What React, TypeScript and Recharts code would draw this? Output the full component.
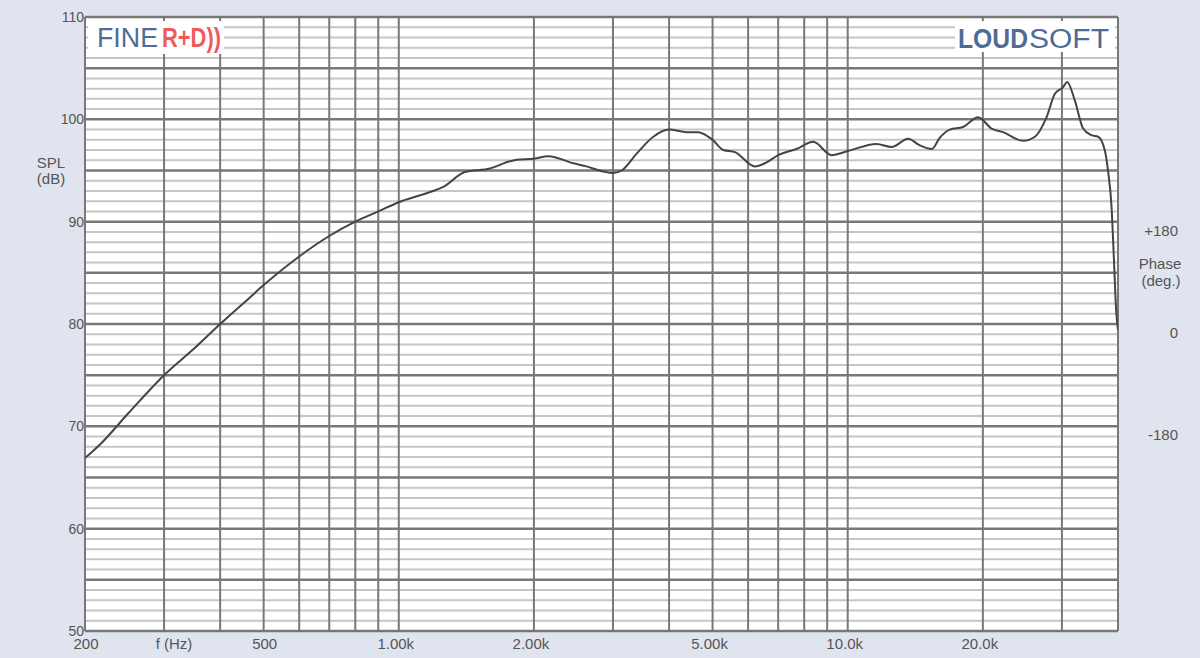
import React from 'react';
import { LineChart, Line, XAxis, YAxis, ReferenceLine, CartesianGrid } from 'recharts';

// Frequency response (SPL, dB)
const frequencies = [
  200, 218, 250, 300, 350, 400, 466, 500, 600, 700, 800, 900, 1000, 1174, 1257, 1403, 1596,
  1768, 1830, 2000, 2153, 2447, 2620, 2855, 3000, 3136, 3387, 3689, 4000, 4378, 4645, 5000,
  5283, 5607, 6209, 6596, 7000, 7692, 8379, 9206, 10000, 11594, 12520, 13634, 14478, 15400,
  16034, 16882, 18075, 19524, 20912, 22200, 24590, 26110, 27720, 28940, 30200, 30820, 32050,
  33450, 34920, 36120, 37370, 38000, 38690, 39200, 39600, 40000,
];
const splValues = [
  66.9, 68.4, 71.3, 75.0, 77.6, 80.0, 82.6, 83.8, 86.6, 88.6, 90.0, 91.0, 91.9, 92.9, 93.4, 94.85, 95.2,
  95.9, 96.05, 96.15, 96.4, 95.7, 95.4, 94.9, 94.75, 95.0, 96.65, 98.3, 99.0, 98.75, 98.75, 98.0,
  97.0, 96.8, 95.4, 95.8, 96.5, 97.1, 97.8, 96.5, 96.9, 97.6, 97.3, 98.1, 97.45, 97.1,
  98.2, 99.0, 99.25, 100.2, 99.1, 98.75, 97.9, 98.3, 100.2, 102.5, 103.15, 103.65, 101.85,
  99.1, 98.45, 98.3, 97.0, 95.0, 91.5, 86.0, 81.5, 79.4,
];

const xGridTicks = [
  200, 300, 400, 500, 600, 700, 800, 900, 1000, 2000, 3000, 4000, 5000, 6000, 7000, 8000, 9000,
  10000, 20000, 30000, 40000,
];
const xLabelTicks = [200, 500, 1000, 2000, 5000, 10000, 20000];
const xLabels = ['200', '500', '1.00k', '2.00k', '5.00k', '10.0k', '20.0k'];
const xTitleTick = 300;

const yLabelTicks = [50, 60, 70, 80, 90, 100, 110];
const yMajorTicks = [50, 55, 60, 65, 70, 75, 80, 85, 90, 95, 100, 105, 110];
const yMinorTicks = [
  51, 52, 53, 54, 56, 57, 58, 59, 61, 62, 63, 64, 66, 67, 68, 69, 71, 72, 73, 74, 76, 77, 78, 79,
  81, 82, 83, 84, 86, 87, 88, 89, 91, 92, 93, 94, 96, 97, 98, 99, 101, 102, 103, 104, 106, 107, 108, 109,
];
const phaseTicks = [-180, 0, 180];
const phaseLabels = ['-180', '0', '+180'];

const data = frequencies.map((f, i) => ({ f, spl: splValues[i], phase: null as number | null }));

const FONT = '"Liberation Sans", Arial, sans-serif';
const TEXT = '#555555';
const MAJOR = '#787878';
const MINOR = '#c6c6c6';

const XTick = (props: any) => {
  const { x, y, payload } = props;
  const v = payload.value;
  if (v === xTitleTick) {
    return (
      <text x={x + 10} y={y} dy={18} textAnchor="middle" fill={TEXT} fontSize={15} fontFamily={FONT}>
        f (Hz)
      </text>
    );
  }
  const idx = xLabelTicks.indexOf(v);
  if (idx < 0) return <g />;
  const shift = v >= 1000 ? -3 : 1;
  return (
    <text x={x + shift} y={y} dy={18} textAnchor="middle" fill={TEXT} fontSize={15} fontFamily={FONT}>
      {xLabels[idx]}
    </text>
  );
};

const YTick = (props: any) => {
  const { x, y, payload } = props;
  return (
    <text x={x - 1} y={y} dy={5} textAnchor="end" fill={TEXT} fontSize={14} fontFamily={FONT}>
      {payload.value}
    </text>
  );
};

const PhaseTick = (props: any) => {
  const { x, y, payload } = props;
  const idx = phaseTicks.indexOf(payload.value);
  return (
    <text x={x + 60} y={y} dy={14} textAnchor="end" fill={TEXT} fontSize={15} fontFamily={FONT}>
      {phaseLabels[idx]}
    </text>
  );
};

export default function App() {
  return (
    <div style={{ position: 'absolute', left: 0, top: 0, width: 1200, height: 658, background: '#e0e4ef', overflow: 'hidden' }}>
      <LineChart width={1200} height={658} data={data} margin={{ top: 17, right: 0, bottom: 0, left: 0 }}>
        <CartesianGrid fill="#ffffff" stroke="none" horizontal={false} vertical={false} />
        <XAxis
          dataKey="f"
          type="number"
          scale="log"
          domain={[200, 40000]}
          allowDataOverflow
          ticks={xGridTicks}
          interval={0}
          height={27}
          axisLine={false}
          tickLine={false}
          tickSize={0}
          tickMargin={0}
          tick={<XTick />}
        />
        <YAxis
          yAxisId="spl"
          domain={[50, 110]}
          ticks={yLabelTicks}
          interval={0}
          width={85}
          axisLine={false}
          tickLine={false}
          tickSize={0}
          tickMargin={0}
          tick={<YTick />}
        />
        <YAxis
          yAxisId="phase"
          orientation="right"
          type="number"
          domain={[-540, 540]}
          allowDataOverflow
          ticks={phaseTicks}
          interval={0}
          width={82}
          axisLine={false}
          tickLine={false}
          tickSize={0}
          tickMargin={0}
          tick={<PhaseTick />}
        />
        {yMinorTicks.map((v) => (
          <ReferenceLine key={'mn' + v} yAxisId="spl" y={v} stroke={MINOR} strokeWidth={2} />
        ))}
        {yMajorTicks.map((v) => (
          <ReferenceLine key={'mj' + v} yAxisId="spl" y={v} stroke={MAJOR} strokeWidth={2.5} />
        ))}
        {xGridTicks.map((v) => (
          <ReferenceLine key={'vx' + v} yAxisId="spl" x={v} stroke={MAJOR} strokeWidth={2} />
        ))}
        <Line
          yAxisId="phase"
          dataKey="phase"
          stroke="none"
          dot={false}
          activeDot={false}
          legendType="none"
          isAnimationActive={false}
        />
        <Line
          yAxisId="spl"
          dataKey="spl"
          type="monotone"
          stroke="#444444"
          strokeWidth={2}
          dot={false}
          activeDot={false}
          isAnimationActive={false}
        />
      </LineChart>
      <svg
        width={1200}
        height={658}
        style={{ position: 'absolute', left: 0, top: 0, pointerEvents: 'none' }}
      >
        <rect x={88} y={21} width={136} height={33} fill="#ffffff" />
        <text x={97} y={47} fontSize={27} fontFamily={FONT} fill="#4f6b96" textLength={61} lengthAdjust="spacingAndGlyphs">
          FINE
        </text>
        <text x={162} y={47} fontSize={27} fontWeight="bold" fontFamily={FONT} fill="#ef5b5b" textLength={59} lengthAdjust="spacingAndGlyphs">
          R+D))
        </text>
        <rect x={955} y={21} width={160} height={31} fill="#ffffff" />
        <text x={958} y={48} fontSize={27} fontWeight="bold" fontFamily={FONT} fill="#4f6b96" textLength={70} lengthAdjust="spacingAndGlyphs">
          LOUD
        </text>
        <text x={1029} y={48} fontSize={27} fontFamily={FONT} fill="#4f6b96" textLength={80} lengthAdjust="spacingAndGlyphs">
          SOFT
        </text>
        <text x={51} y={168} textAnchor="middle" fontSize={15} fontFamily={FONT} fill={TEXT}>SPL</text>
        <text x={51} y={184} textAnchor="middle" fontSize={15} fontFamily={FONT} fill={TEXT}>(dB)</text>
        <text x={1160} y={269} textAnchor="middle" fontSize={15} fontFamily={FONT} fill={TEXT}>Phase</text>
        <text x={1161} y={286} textAnchor="middle" fontSize={15} fontFamily={FONT} fill={TEXT}>(deg.)</text>
      </svg>
    </div>
  );
}
